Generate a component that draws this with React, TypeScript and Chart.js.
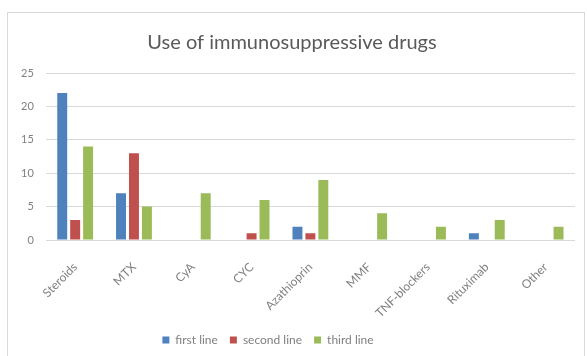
import { useEffect, useRef } from "react";
import { Chart, registerables } from "chart.js";

Chart.register(...registerables);

const categories = ["Steroids", "MTX", "CyA", "CYC", "Azathioprin", "MMF", "TNF-blockers", "Rituximab", "Other"];
const firstLine = [22, 7, 0, 0, 2, 0, 0, 1, 0];
const secondLine = [3, 13, 0, 1, 1, 0, 0, 0, 0];
const thirdLine = [14, 5, 7, 6, 9, 4, 2, 3, 2];
const yTicks = [0, 5, 10, 15, 20, 25];

const FONT = "Lato, 'Open Sans', sans-serif";
const TEXT = "#808080";

// Nudges the bottom legend sideways from its default centred spot.
const legendShift = {
  id: "legendShift",
  afterLayout(chart: any) {
    const lg = chart.legend;
    if (lg) {
      lg.left -= 24;
      lg.right -= 24;
    }
  },
};

export default function App() {
  const ref = useRef<HTMLCanvasElement>(null);

  useEffect(() => {
    document.body.style.margin = "0";
    const chart = new Chart(ref.current!, {
      type: "bar",
      data: {
        labels: categories,
        datasets: [
          { label: "first line", data: firstLine, backgroundColor: "#4f81bd" },
          { label: "second line", data: secondLine, backgroundColor: "#c0504d" },
          { label: "third line", data: thirdLine, backgroundColor: "#9bbb59" },
        ],
      },
      plugins: [legendShift],
      options: {
        animation: false,
        responsive: false,
        maintainAspectRatio: false,
        datasets: { bar: { categoryPercentage: 0.66, barPercentage: 0.77 } },
        layout: { padding: { left: 1, right: 11, top: 9, bottom: 0 } },
        plugins: {
          title: {
            display: true,
            text: "Use of immunosuppressive drugs",
            color: "#595959",
            font: { family: FONT, size: 20, weight: "normal" },
            padding: { top: 10, bottom: 18 },
          },
          legend: {
            position: "bottom",
            labels: {
              color: TEXT,
              font: { family: FONT, size: 12 },
              boxWidth: 7,
              boxHeight: 7,
              padding: 12,
            },
          },
          tooltip: { enabled: false },
        },
        scales: {
          x: {
            grid: { display: false },
            border: { display: false },
            afterFit: (axis: any) => {
              axis.height = 82;
            },
            ticks: {
              color: TEXT,
              font: { family: FONT, size: 12 },
              minRotation: 45,
              maxRotation: 45,
              padding: 12,
            },
          },
          y: {
            min: 0,
            max: 25,
            afterBuildTicks: (axis: any) => {
              axis.ticks = yTicks.map((v) => ({ value: v }));
            },
            grid: { color: "#d9d9d9", drawTicks: false },
            border: { display: false },
            ticks: {
              color: TEXT,
              font: { family: FONT, size: 11 },
              padding: 12,
            },
          },
        },
      },
    });
    return () => chart.destroy();
  }, []);

  return (
    <div style={{ position: "relative", width: 587, height: 356, background: "#fff", overflow: "hidden" }}>
      <div
        style={{
          position: "absolute",
          left: 7,
          top: 12,
          width: 578,
          height: 360,
          border: "1px solid #d9d9d9",
          boxSizing: "border-box",
        }}
      />
      <canvas ref={ref} width={578} height={344} style={{ position: "absolute", left: 8, top: 12 }} />
    </div>
  );
}
